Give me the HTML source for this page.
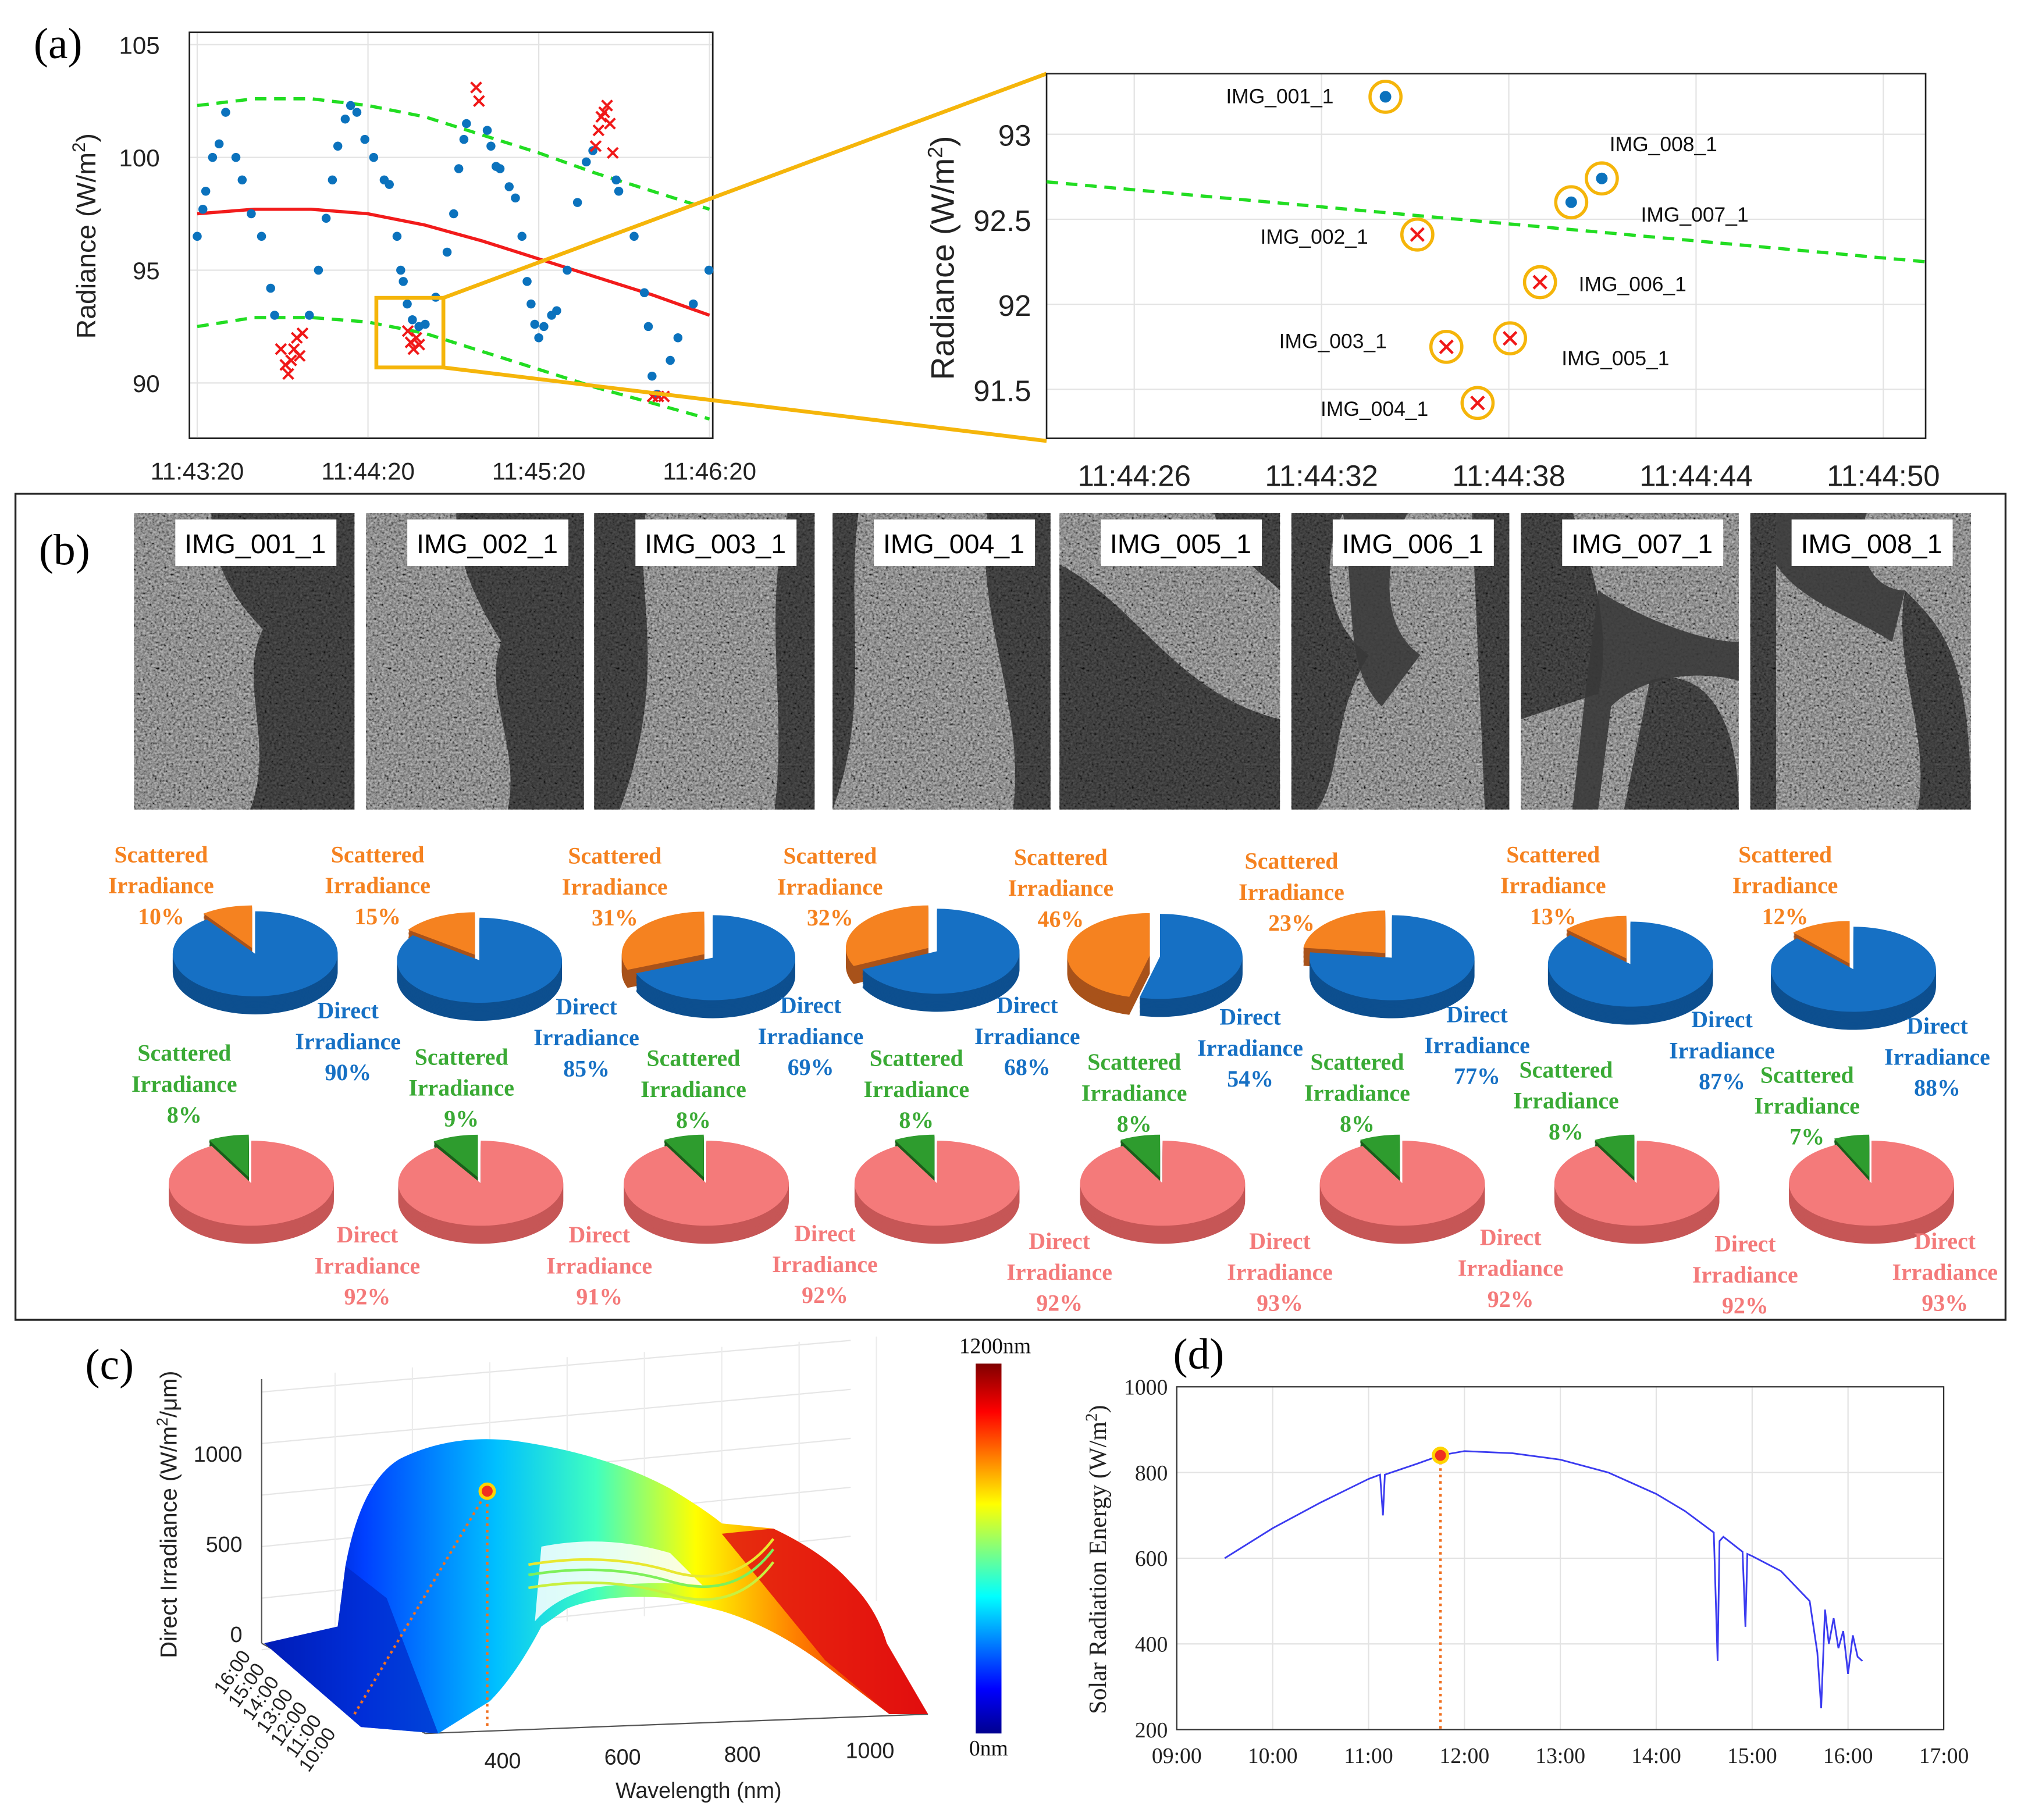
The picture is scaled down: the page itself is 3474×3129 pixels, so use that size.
<!DOCTYPE html>
<html><head><meta charset="utf-8">
<style>
html,body{margin:0;padding:0;background:#fff;}
svg{display:block;}
.sans{font-family:"Liberation Sans",sans-serif;}
.serif{font-family:"Liberation Serif",serif;}
</style></head>
<body>
<svg id="fig" xmlns="http://www.w3.org/2000/svg" width="3474" height="3129" viewBox="0 0 1568 1412">
<defs>
<filter id="tex" x="0" y="0" width="100%" height="100%">
<feTurbulence type="fractalNoise" baseFrequency="0.55" numOctaves="3" seed="4"/>
<feColorMatrix type="matrix" values="0.33 0.33 0.33 0 0  0.33 0.33 0.33 0 0  0.33 0.33 0.33 0 0  0 0 0 0 1"/>
<feComponentTransfer><feFuncR type="linear" slope="1.9" intercept="-0.55"/><feFuncG type="linear" slope="1.9" intercept="-0.55"/><feFuncB type="linear" slope="1.9" intercept="-0.55"/></feComponentTransfer>
</filter>
<linearGradient id="jet" x1="0" y1="0" x2="1" y2="0">
<stop offset="0" stop-color="#00008f"/><stop offset="0.15" stop-color="#0040ff"/><stop offset="0.35" stop-color="#00c0ff"/><stop offset="0.5" stop-color="#40ffbf"/><stop offset="0.65" stop-color="#ffff00"/><stop offset="0.8" stop-color="#ff8000"/><stop offset="1" stop-color="#e00000"/>
</linearGradient>
<linearGradient id="jetv" x1="0" y1="1" x2="0" y2="0">
<stop offset="0" stop-color="#00008f"/><stop offset="0.12" stop-color="#0000ff"/><stop offset="0.37" stop-color="#00ffff"/><stop offset="0.62" stop-color="#ffff00"/><stop offset="0.87" stop-color="#ff0000"/><stop offset="1" stop-color="#800000"/>
</linearGradient>
</defs>
<g id="root"></g>
</svg>
<script>
// ---------- data: panel (a) ----------
const aBlueT=[0,2,3,5.4,7.7,10,13.6,15.8,19,22.6,25.8,27.2,39.4,42.6,45.3,47.5,49.4,52,53.9,56.1,58.9,62,65.7,67.5,70.2,71.5,72.4,73.8,75.6,77.9,80.1,83.8,87.8,90.1,91.9,93.7,94.6,101.9,103.2,105,106.4,109.6,111.8,114.1,115.9,117.3,118.6,120,121.8,124.5,126.3,130,133.6,136.7,139,147.2,148.1,153.5,157.1,158.5,159.8,161.6,166.2,168.9,174.3,179.8];
const aBlueV=[96.5,97.7,98.5,100,100.6,102,100,99,97.5,96.5,94.2,93,93,95,97.3,99,100.5,101.7,102.3,102,100.8,100,99,98.8,96.5,95,94.5,93.5,92.8,92.5,92.6,93.8,95.8,97.5,99.5,100.8,101.5,101.2,100.5,99.6,99.5,98.7,98.2,96.5,94.5,93.5,92.6,92,92.5,93,93.2,95,98,99.8,100.3,99,98.5,96.5,94,92.5,90.3,89.5,91,92,93.5,95];
const aRedT=[29.4,31,32,33,34,35,36,37,74,75,76,77,78,98,99,140,141,142,143,144,145,146,160,162,164];
const aRedV=[91.5,90.8,90.4,91,91.5,92,91.2,92.2,92.3,91.8,91.5,92,91.7,103.1,102.5,100.5,101.2,101.8,102,102.3,101.5,100.2,89.4,89.4,89.4];
const aFitT=[0,20,40,60,80,100,120,140,160,180];
const aFitV=[97.5,97.7,97.7,97.5,97.0,96.3,95.5,94.7,93.9,93.0];
const aUpV=[102.3,102.6,102.6,102.3,101.8,101.0,100.2,99.3,98.5,97.7];
const aLoV=[92.5,92.9,92.9,92.7,92.2,91.4,90.6,89.8,89.1,88.4];
const aXTicks=["11:43:20","11:44:20","11:45:20","11:46:20"];
const aYTicks=[90,95,100,105];
// zoom panel
const zNames=["IMG_001_1","IMG_002_1","IMG_003_1","IMG_004_1","IMG_005_1","IMG_006_1","IMG_007_1","IMG_008_1"];
const zT=[34.05,35.07,36.0,37.0,38.04,39.0,40.0,40.98];
const zV=[93.22,92.41,91.75,91.42,91.8,92.13,92.6,92.74];
const zType=["o","x","x","x","x","x","o","o"];
const zXTicks=["11:44:26","11:44:32","11:44:38","11:44:44","11:44:50"];
const zYTicks=[91.5,92,92.5,93];
// ---------- data: panel (b) ----------
const topScat=[10,15,31,32,46,23,13,12];
const topDir=[90,85,69,68,54,77,87,88];
const botScat=[8,9,8,8,8,8,8,7];
const botDir=[92,91,92,92,93,92,92,93];
// ---------- data: panel (d) ----------
const dT=[9.5,10,10.5,11,11.12,11.15,11.17,11.5,11.75,12,12.5,13,13.5,14,14.3,14.6,14.64,14.66,14.7,14.9,14.93,14.95,15,15.3,15.6,15.68,15.72,15.76,15.8,15.85,15.9,15.95,16,16.05,16.1,16.15];
const dV=[600,670,730,785,795,700,795,820,840,850,845,830,800,750,710,660,360,640,650,615,440,610,605,570,500,380,250,480,400,460,390,430,330,420,370,360];
const dXTicks=["09:00","10:00","11:00","12:00","13:00","14:00","15:00","16:00","17:00"];
const dYTicks=[200,400,600,800,1000];
const dMarkT=11.75, dMarkV=840;

const NS="http://www.w3.org/2000/svg";
const root=document.getElementById('root');
function el(tag,attrs,parent){const e=document.createElementNS(NS,tag);for(const k in attrs)e.setAttribute(k,attrs[k]);(parent||root).appendChild(e);return e;}
function txt(x,y,s,size,fill,cls,anchor,weight,parent){const t=el('text',{x:x,y:y,'font-size':size,fill:fill,class:cls,'text-anchor':anchor||'middle','font-weight':weight||'normal'},parent);t.textContent=s;return t;}
function cross(x,y,r,col,w,parent){const g=el('g',{},parent);el('line',{x1:x-r,y1:y-r,x2:x+r,y2:y+r,stroke:col,'stroke-width':w},g);el('line',{x1:x-r,y1:y+r,x2:x+r,y2:y-r,stroke:col,'stroke-width':w},g);return g;}

// ================= PANEL A =================
let t=txt(45,45,"(a)",34,"#000","serif","middle");


const ax=t=>153+t*132.5/60, ay=v=>297-(v-90)*17.5;
const gA=el('g',{});


el('rect',{x:147,y:25,width:406,height:315,fill:'#fff',stroke:'#222','stroke-width':1.2},gA);
aXTicks.forEach((s,i)=>{const x=ax(i*60);el('line',{x1:x,y1:25,x2:x,y2:340,stroke:'#e3e3e3'},gA);const tt=txt(x,372,s,19,"#222","sans");});
aYTicks.forEach(v=>{const y=ay(v);el('line',{x1:147,y1:y,x2:553,y2:y,stroke:'#e3e3e3'},gA);const tt=txt(124,y+7,String(v),19,"#222","sans","end");});
el('rect',{x:147,y:25,width:406,height:315,fill:'none',stroke:'#222','stroke-width':1.2},gA);
t=el('text',{x:74,y:183,'font-size':21,fill:'#222',class:'sans','text-anchor':'middle',transform:'rotate(-90 74 183)'},gA);
t.innerHTML='Radiance (W/m<tspan dy="-8" font-size="14">2</tspan><tspan dy="8">)</tspan>';


function curve(T,V,stroke,dash,w,name,par){const p=el('polyline',{points:T.map((tt,i)=>ax(tt)+','+ay(V[i])).join(' '),fill:'none',stroke:stroke,'stroke-width':w,'stroke-dasharray':dash},par);}
curve(aFitT,aFitV,'#f21b1b','none',2.5,'fit-curve',gA);
curve(aFitT,aUpV,'#22dd22','9 6',2.5,'upper-bound',gA);
curve(aFitT,aLoV,'#22dd22','9 6',2.5,'lower-bound',gA);
aBlueT.forEach((tt,i)=>{const c=el('circle',{cx:ax(tt),cy:ay(aBlueV[i]),r:3.5,fill:'#0b72bd'},gA);});
aRedT.forEach((tt,i)=>{const c=cross(ax(tt),ay(aRedV[i]),4,'#f01818',1.8,gA);});
t=el('rect',{x:292,y:231,width:52,height:54,fill:'none',stroke:'#f5b50a','stroke-width':3});


el('line',{x1:344,y1:231,x2:812,y2:57,stroke:'#f5b50a','stroke-width':3});
el('line',{x1:344,y1:285,x2:812,y2:342,stroke:'#f5b50a','stroke-width':3});
const zx=s=>880+(s-26)*145.3/6, zy=v=>104+(93-v)*132;
const gZ=el('g',{});


el('rect',{x:812,y:57,width:682,height:283,fill:'#fff'},gZ);
zXTicks.forEach((s,i)=>{const x=zx(26+i*6);el('line',{x1:x,y1:57,x2:x,y2:340,stroke:'#e3e3e3'},gZ);const tt=txt(x,377,s,23,"#222","sans");});
zYTicks.forEach(v=>{const y=zy(v);el('line',{x1:812,y1:y,x2:1494,y2:y,stroke:'#e3e3e3'},gZ);const tt=txt(800,y+9,String(v),23,"#222","sans","end");});
el('rect',{x:812,y:57,width:682,height:283,fill:'none',stroke:'#222','stroke-width':1.2},gZ);
t=el('text',{x:740,y:200,'font-size':25,fill:'#222',class:'sans','text-anchor':'middle',transform:'rotate(-90 740 200)'},gZ);
t.innerHTML='Radiance (W/m<tspan dy="-9" font-size="16">2</tspan><tspan dy="9">)</tspan>';


t=el('line',{x1:812,y1:zy(92.72),x2:1494,y2:zy(92.25),stroke:'#22dd22','stroke-width':2.5,'stroke-dasharray':'9 6'},gZ);


const lblOff=[[-82,0],[-80,2],[-88,-4],[-80,5],[40,16],[30,2],[54,10],[0,-26]];
const lblAnchor=["middle","middle","middle","middle","start","start","start","start"];
zNames.forEach((n,i)=>{const x=zx(zT[i]),y=zy(zV[i]);
 el('circle',{cx:x,cy:y,r:12,fill:'none',stroke:'#f5b50a','stroke-width':2.5},gZ);
 let m; if(zType[i]==='o'){m=el('circle',{cx:x,cy:y,r:4.5,fill:'#0b72bd'},gZ);}else{m=cross(x,y,5,'#f01818',2,gZ);}
 
 
 let lx=x+lblOff[i][0], ly=y+lblOff[i][1]+5; if(i===7){lx=x+6;}
 const tt=txt(lx,ly,n,16,"#111","sans",lblAnchor[i]);
 
 
});

// ================= PANEL B =================
t=el('rect',{x:12,y:383,width:1544,height:641,fill:'none',stroke:'#222','stroke-width':1.5});


t=txt(50,438,"(b)",34,"#000","serif");


const imgX=[104,284,461,646,822,1002,1180,1358], imgW=[171,169,171,169,171,169,169,171];
const treeShapes=[
 "M60,0 L171,0 L171,230 L90,230 C110,180 80,130 100,90 C70,60 60,30 60,0Z",
 "M70,0 L169,0 L169,230 L110,230 C120,180 90,140 105,100 C80,60 70,30 70,0Z",
 "M0,0 L40,0 C30,60 60,120 20,230 L0,230Z M150,0 L171,0 L171,230 L140,230 C150,150 130,80 150,0Z",
 "M0,0 L20,0 C10,80 30,150 0,230Z M120,0 L169,0 L169,230 L140,230 C150,150 110,80 120,0Z",
 "M0,40 C60,70 90,140 171,160 L171,230 L0,230Z M120,0 L171,0 L171,60 C150,40 130,30 120,0Z",
 "M0,0 L40,0 C20,40 30,90 60,110 C30,160 40,200 20,230 L0,230Z M140,0 L169,0 L169,230 L150,230Z",
 "M0,0 L40,0 C60,50 70,100 60,140 L0,160Z M100,130 C130,120 169,140 169,230 L80,230Z",
 "M0,0 L20,0 L20,230 L0,230Z M120,60 C150,90 171,110 171,230 L130,230 C140,170 110,120 120,60Z"];
const waterShapes=["","","","","","M40,0 L90,0 C70,40 70,90 100,110 L70,150 C40,120 50,70 40,0Z","M60,60 C90,80 140,100 169,100 L169,130 C130,120 90,130 70,150 L60,230 L40,230 L50,140Z","M20,0 L90,0 C80,40 100,60 120,60 L110,100 C80,80 40,70 20,40Z"];
zNames.forEach((n,i)=>{const g=el('g',{transform:`translate(${imgX[i]},398)`});
 
 
 el('rect',{x:0,y:0,width:imgW[i],height:230,fill:'#4a4a4a'},g);
 el('rect',{x:0,y:0,width:imgW[i],height:230,filter:'url(#tex)',opacity:0.75},g);
 el('path',{d:treeShapes[i],fill:'#0e0e0e',opacity:0.62},g);
 if(waterShapes[i]) el('path',{d:waterShapes[i],fill:'#383838',opacity:0.9},g);
 el('rect',{x:32,y:5,width:125,height:36,fill:'#fff'},g);
 const tt=txt(94,31,n,21,"#000","sans","middle","normal",g);
 
 
});
function pt(cx,cy,rx,ry,a){return [cx+rx*Math.cos(a*Math.PI/180),cy+ry*Math.sin(a*Math.PI/180)];}
function sector(cx,cy,rx,ry,a0,a1){const p0=pt(cx,cy,rx,ry,a0),p1=pt(cx,cy,rx,ry,a1);const large=(a1-a0)>180?1:0;return `M${cx},${cy} L${p0[0]},${p0[1]} A${rx},${ry} 0 ${large} 1 ${p1[0]},${p1[1]}Z`;}
function pie(cx,cy,pct,main,mainD,sl,slD,name){const g=el('g',{});
 
 
 const rx=64,ry=33,depth=14,a0=-90-pct*3.6,mid=(a0-90)/2,ex=8;
 const ox=ex*Math.cos(mid*Math.PI/180),oy=ex*0.6*Math.sin(mid*Math.PI/180);
 for(let d=depth;d>0;d-=1){el('path',{d:sector(cx,cy+d,rx,ry,-90,270-pct*3.6),fill:mainD},g);el('path',{d:sector(cx+ox,cy+oy+d,rx,ry,a0,-90),fill:slD},g);}
 const m=el('path',{d:sector(cx,cy,rx,ry,-90,270-pct*3.6),fill:main},g);
 
 
 const s=el('path',{d:sector(cx+ox,cy+oy,rx,ry,a0,-90),fill:sl},g);
 
 
}
function label3(x,y,lines,col,name){const g=el('g',{});
 
 
 lines.forEach((s,i)=>txt(x,y+i*24,s,18,col,"serif","middle","bold",g));}
const topC=[198,372,553,727,900,1080,1265,1438], topY=[740,745,743,738,742,743,748,752];
const tsl=[[125,669],[293,669],[477,670],[644,670],[823,671],[1002,674],[1205,669],[1385,669]];
const tdl=[[270,790],[455,787],[629,786],[797,786],[970,795],[1146,793],[1336,797],[1503,802]];
topScat.forEach((p,i)=>{pie(topC[i],topY[i],p,'#1670c4','#0d4f8f','#f58220','#a8521a','top-pie');
 label3(tsl[i][0],tsl[i][1],["Scattered","Irradiance",p+"%"],'#f58220','scattered-label');
 label3(tdl[i][0],tdl[i][1],["Direct","Irradiance",topDir[i]+"%"],'#1670c4','direct-label');});
const botC=[195,373,548,727,902,1088,1270,1452];
const bsl=[[143,823],[358,826],[538,827],[711,827],[880,830],[1053,830],[1215,836],[1402,840]];
const bdl=[[285,964],[465,964],[640,963],[822,969],[993,969],[1172,966],[1354,971],[1509,969]];
botScat.forEach((p,i)=>{pie(botC[i],918,p,'#f47a7a','#c65656','#2e9c2e','#1a5e1a','bottom-pie');
 label3(bsl[i][0],bsl[i][1],["Scattered","Irradiance",p+"%"],'#3aaa35','scattered-label');
 label3(bdl[i][0],bdl[i][1],["Direct","Irradiance",botDir[i]+"%"],'#f47a7a','direct-label');});

// ================= PANEL C =================
t=txt(85,1070,"(c)",34,"#000","serif");


const gC=el('g',{});


for(let i=0;i<6;i++){el('line',{x1:203,y1:1080+i*40,x2:660,y2:1040+i*40-(i*2),stroke:'#e6e6e6'},gC);}
for(let i=0;i<8;i++){el('line',{x1:260+i*60,y1:1065-i*4,x2:260+i*60,y2:1270-i*4,stroke:'#ececec'},gC);}
el('line',{x1:203,y1:1070,x2:203,y2:1275,stroke:'#555'},gC);
el('line',{x1:203,y1:1275,x2:330,y2:1345,stroke:'#555'},gC);
el('line',{x1:330,y1:1345,x2:720,y2:1330,stroke:'#555'},gC);
[[1000,1128],[500,1198],[0,1268]].forEach(a=>{const tt=txt(188,a[1]+6,String(a[0]),17,"#222","sans","end",'normal',gC);});
t=el('text',{x:137,y:1175,'font-size':18,fill:'#222',class:'sans','text-anchor':'middle',transform:'rotate(-90 137 1175)'},gC);
t.innerHTML='Direct Irradiance (W/m<tspan dy="-7" font-size="12">2</tspan><tspan dy="7">/μm)</tspan>';


t=el('path',{d:"M205,1275 L262,1262 L268,1215 Q280,1150 310,1132 Q350,1112 400,1118 Q470,1128 520,1155 Q548,1172 560,1182 L600,1186 Q640,1205 660,1228 Q680,1248 688,1275 L720,1330 L690,1330 L640,1292 Q600,1262 560,1250 L520,1240 Q470,1236 440,1248 L420,1262 Q400,1300 380,1320 L340,1345 L280,1340 Z",fill:'url(#jet)',stroke:'none'},gC);


el('path',{d:"M420,1200 Q470,1190 520,1205 L545,1230 Q500,1226 460,1232 Q430,1240 415,1258 Z",fill:'#fff',opacity:0.85},gC);
el('path',{d:"M560,1190 L600,1186 Q640,1205 660,1228 Q680,1248 688,1275 L720,1330 L690,1330 L640,1288 Z",fill:'#e21010',opacity:0.85},gC);
el('path',{d:"M205,1275 L262,1262 L268,1215 L300,1240 L340,1345 L280,1340 Z",fill:'#0028c8',opacity:0.7},gC);
[[1222,'#7ef05a'],[1232,'#c8f040'],[1214,'#e8e830']].forEach(a=>el('path',{d:`M410,${a[0]} Q470,${a[0]-10} 520,${a[0]+5} T600,${a[0]-20}`,fill:'none',stroke:a[1],'stroke-width':2},gC));
[["400",390,1372],["600",483,1369],["800",576,1367],["1000",675,1364]].forEach(a=>{const tt=txt(a[1],a[2],a[0],17,"#222","sans","middle",'normal',gC);});
t=txt(542,1395,"Wavelength (nm)",17,"#222","sans","middle",'normal',gC);


["16:00","15:00","14:00","13:00","12:00","11:00","10:00"].forEach((s,i)=>{const x=195+i*11,y=1285+i*10;const tt=el('text',{x:x,y:y,'font-size':15,fill:'#222',class:'sans','text-anchor':'end',transform:`rotate(-55 ${x} ${y})`},gC);tt.textContent=s;});
el('line',{x1:275,y1:1330,x2:378,y2:1157,stroke:'#f07020','stroke-width':2,'stroke-dasharray':'2 3'},gC);
el('line',{x1:378,y1:1157,x2:378,y2:1340,stroke:'#f07020','stroke-width':2,'stroke-dasharray':'2 3'},gC);
t=el('circle',{cx:378,cy:1157,r:5.5,fill:'#f03020',stroke:'#ffd400','stroke-width':2.5},gC);


t=el('rect',{x:757,y:1058,width:20,height:287,fill:'url(#jetv)'});


t=txt(772,1050,"1200nm",17,"#111","serif");
t=txt(767,1362,"0nm",17,"#111","serif");

// ================= PANEL D =================
t=txt(930,1062,"(d)",34,"#000","serif");


const dx=h=>913+(h-9)*74.4, dy=v=>1342-(v-200)*266/800;
const gD=el('g',{});


dXTicks.forEach((s,i)=>{const x=dx(9+i);el('line',{x1:x,y1:1076,x2:x,y2:1342,stroke:'#e3e3e3'},gD);const tt=txt(x,1368,s,17,"#222","serif","middle",'normal',gD);});
dYTicks.forEach(v=>{const y=dy(v);el('line',{x1:913,y1:y,x2:1508,y2:y,stroke:'#e3e3e3'},gD);const tt=txt(906,y+6,String(v),17,"#222","serif","end",'normal',gD);});
el('rect',{x:913,y:1076,width:595,height:266,fill:'none',stroke:'#333','stroke-width':1},gD);
t=el('text',{x:858,y:1210,'font-size':19,fill:'#222',class:'serif','text-anchor':'middle',transform:'rotate(-90 858 1210)'},gD);
t.innerHTML='Solar Radiation Energy (W/m<tspan dy="-7" font-size="13">2</tspan><tspan dy="7">)</tspan>';


t=el('polyline',{points:dT.map((h,i)=>dx(h)+','+dy(dV[i])).join(' '),fill:'none',stroke:'#3b3bf0','stroke-width':1.3},gD);


el('line',{x1:dx(dMarkT),y1:dy(dMarkV),x2:dx(dMarkT),y2:1342,stroke:'#f07020','stroke-width':2,'stroke-dasharray':'2 3'},gD);
t=el('circle',{cx:dx(dMarkT),cy:dy(dMarkV),r:5.5,fill:'#f03020',stroke:'#ffd400','stroke-width':2.5},gD);


</script>
</body></html>
